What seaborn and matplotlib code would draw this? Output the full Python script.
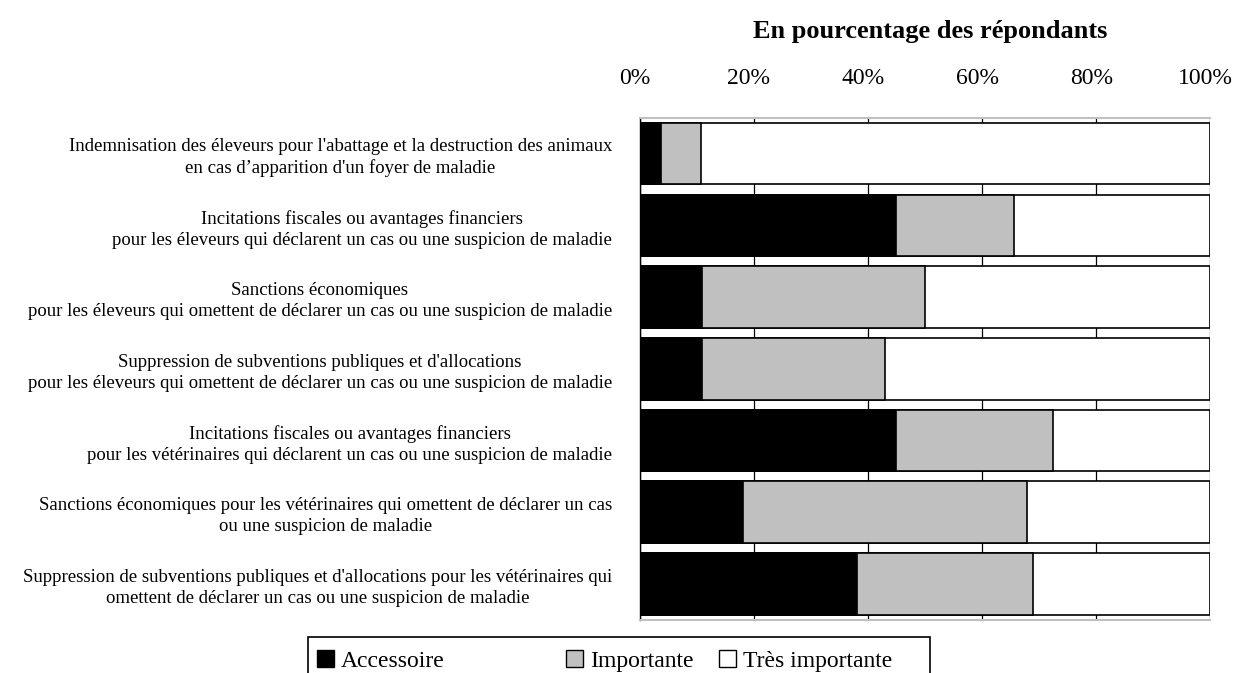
import pandas as pd
import matplotlib.pyplot as plt
import matplotlib.transforms as mtransforms
import seaborn as sns
from matplotlib.patches import Patch, Rectangle

categories = [
    "Indemnisation des éleveurs pour l'abattage et la destruction des animaux\nen cas d\u2019apparition d'un foyer de maladie",
    "Incitations fiscales ou avantages financiers\npour les éleveurs qui déclarent un cas ou une suspicion de maladie",
    "Sanctions économiques\npour les éleveurs qui omettent de déclarer un cas ou une suspicion de maladie",
    "Suppression de subventions publiques et d'allocations\npour les éleveurs qui omettent de déclarer un cas ou une suspicion de maladie",
    "Incitations fiscales ou avantages financiers\npour les vétérinaires qui déclarent un cas ou une suspicion de maladie",
    "Sanctions économiques pour les vétérinaires qui omettent de déclarer un cas\nou une suspicion de maladie",
    "Suppression de subventions publiques et d'allocations pour les vétérinaires qui\nomettent de déclarer un cas ou une suspicion de maladie",
]
accessoire = [3.8, 45.0, 10.9, 10.9, 45.0, 18.1, 38.1]
importante = [7.0, 20.6, 39.1, 32.0, 27.4, 49.7, 30.8]
tres_importante = [100 - a - b for a, b in zip(accessoire, importante)]

series_names = ["Accessoire", "Importante", "Très importante"]
colors = ["black", "#c0c0c0", "white"]
x_ticks = [0, 20, 40, 60, 80, 100]
x_ticklabels = ["0%", "20%", "40%", "60%", "80%", "100%"]

df = pd.DataFrame({"cat": categories, "acc": accessoire,
                   "imp": importante, "tres": tres_importante})
df["cum_imp"] = df["acc"] + df["imp"]
df["cum_tres"] = df["cum_imp"] + df["tres"]

sns.set_style("white")
plt.rcParams["font.family"] = ["Liberation Serif", "DejaVu Serif"]
plt.rcParams["text.color"] = "black"
plt.rcParams["xtick.color"] = "black"
plt.rcParams["ytick.color"] = "black"

fig = plt.figure(figsize=(12.35, 6.73), dpi=100)
ax = fig.add_axes([0.518, 0.079, 0.462, 0.746])

# stacked bars drawn back to front (totals first)
for col, c in zip(["cum_tres", "cum_imp", "acc"], ["white", "#c0c0c0", "black"]):
    sns.barplot(data=df, x=col, y="cat", orient="h", color=c, width=0.86,
                edgecolor="black", linewidth=1.2, saturation=1, ax=ax, zorder=3)

ax.set_xlim(0, 100)
ax.set_ylim(6.5, -0.5)
ax.set_xticks(x_ticks)
ax.set_xticklabels(x_ticklabels, fontsize=17)
ax.xaxis.tick_top()
ax.tick_params(axis="x", length=0, pad=21)
ax.grid(axis="x", color="black", linewidth=0.9, zorder=0)
ax.set_axisbelow(True)
# nudge top labels slightly left so "100%" stays inside the figure
shift = mtransforms.ScaledTranslation(-5 / 100, 0, fig.dpi_scale_trans)
for lab in ax.get_xticklabels():
    lab.set_transform(lab.get_transform() + shift)

ax.set_yticks(range(len(categories)))
ax.set_yticklabels(categories, fontsize=13.5, multialignment="center", linespacing=1.3)
ax.tick_params(axis="y", length=0, pad=20)
ax.set_yticks([i - 0.5 for i in range(len(categories) + 1)], minor=True)
ax.tick_params(axis="y", which="minor", length=5, width=1, color="black", direction="out")
ax.set_xlabel("")
ax.set_ylabel("")

for s in ["top", "bottom"]:
    ax.spines[s].set_color("#c0c0c0")
    ax.spines[s].set_linewidth(1.5)
ax.spines["right"].set_visible(False)
ax.spines["left"].set_color("black")
ax.spines["left"].set_linewidth(1)

fig.text(0.753, 0.953, "En pourcentage des répondants", ha="center", va="center",
         fontsize=19, fontweight="bold")

# legend: box plus three entries
fig.patches.append(Rectangle((308 / 1235, -0.02), (930 - 308) / 1235, 0.0535 + 0.02,
                             transform=fig.transFigure, facecolor="white",
                             edgecolor="black", linewidth=1.2))
legend_x = [312 / 1235, 561 / 1235, 714 / 1235]
for name, c, lx in zip(series_names, colors, legend_x):
    h = Patch(facecolor=c, edgecolor="black", linewidth=1)
    fig.legend([h], [name], loc="center left", bbox_to_anchor=(lx, 1 - 661 / 673),
               frameon=False, fontsize=17, handlelength=0.72, handleheight=0.72,
               handletextpad=0.3, borderpad=0.2, borderaxespad=0)

fig.savefig("out.png", dpi=100)
